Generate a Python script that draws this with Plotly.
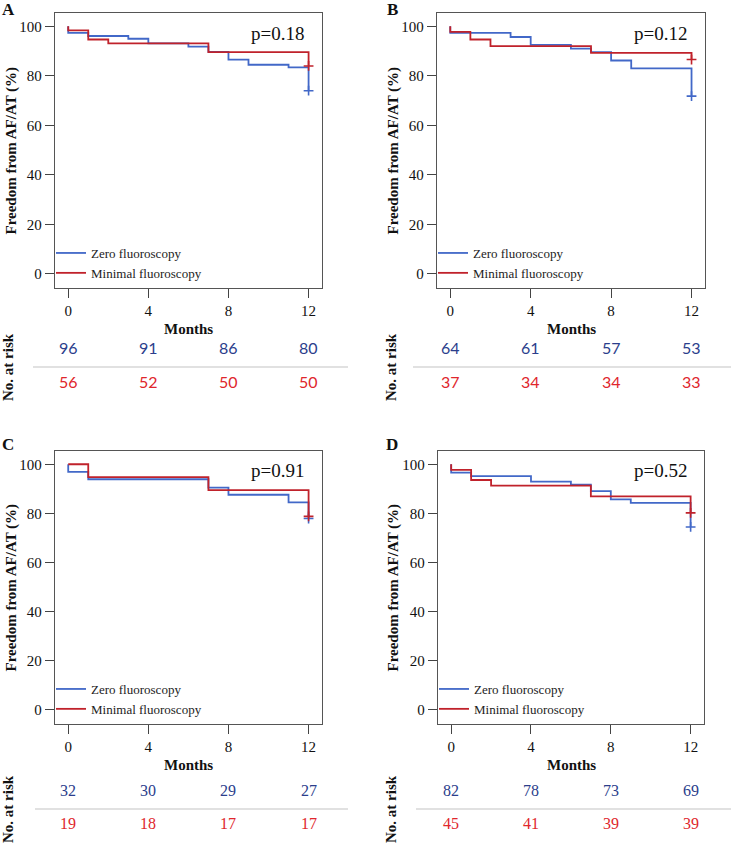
import plotly.graph_objects as go

W, H = 731, 844

# ---------------- data ----------------
panel_letters = ["A", "B", "C", "D"]
p_values = ["p=0.18", "p=0.12", "p=0.91", "p=0.52"]
series_names = ["Zero fluoroscopy", "Minimal fluoroscopy"]
risk_months = [0, 4, 8, 12]

A_zero_t = [0, 0, 1, 3, 4, 6, 7, 8, 9, 11, 12]
A_zero_s = [100, 97.4, 96.1, 95.0, 93.1, 91.8, 89.7, 86.6, 84.5, 83.4, 74.0]
A_min_t = [0, 0, 1, 2, 7, 12]
A_min_s = [100, 98.4, 94.7, 93.1, 89.6, 84.0]

B_zero_t = [0, 0, 3, 4, 6, 7, 8, 9, 12]
B_zero_s = [100, 97.4, 95.7, 92.5, 91.0, 89.6, 86.2, 83.0, 71.8]
B_min_t = [0, 0, 1, 2, 7, 12]
B_min_s = [100, 97.8, 94.7, 92.0, 89.3, 86.6]

C_zero_t = [0, 0, 1, 7, 8, 11, 12]
C_zero_s = [100, 96.9, 93.9, 90.5, 87.6, 84.5, 77.9]
C_min_t = [0, 1, 7, 12]
C_min_s = [100, 94.8, 89.5, 78.8]

D_zero_t = [0, 0, 1, 4, 6, 7, 8, 9, 12]
D_zero_s = [100, 96.6, 95.2, 92.9, 91.7, 89.1, 85.7, 84.3, 74.5]
D_min_t = [0, 0, 1, 2, 7, 12]
D_min_s = [100, 97.7, 93.6, 91.3, 86.9, 80.2]

A_risk_zero = [96, 91, 86, 80]
A_risk_min = [56, 52, 50, 50]
B_risk_zero = [64, 61, 57, 53]
B_risk_min = [37, 34, 34, 33]
C_risk_zero = [32, 30, 29, 27]
C_risk_min = [19, 18, 17, 17]
D_risk_zero = [82, 78, 73, 69]
D_risk_min = [45, 41, 39, 39]

y_ticks = [0, 20, 40, 60, 80, 100]
x_ticks = [0, 4, 8, 12]

# ---------------- styling / layout ----------------
BLUE = "#4268c8"
RED = "#c0222b"
RISK_BLUE = "#2b3e8c"
RISK_RED = "#e0262c"
SERIF = "Liberation Serif, Times New Roman, serif"
SANS = "Lato, Liberation Sans, sans-serif"

def px(x):
    return x / W

def py(y):
    return 1 - y / H

# pixel boxes: (left, right, top, bottom)
boxes = [(55, 322, 13, 288), (437, 705, 13, 288),
         (55, 322, 451, 724), (438, 704, 451, 724)]
risk_rows = [(347, 382, 367), (347, 382, 367), (790, 823, 809), (790, 823, 809)]
sep_x = [(33, 348), (413, 731), (35, 348), (416, 731)]
letter_pos = [(8, 9), (392, 9), (8, 444), (392, 444)]
ytitle_x = [11, 393, 11, 393]
norisk_x = [8, 391, 8, 391]
risk_fonts = [SANS, SANS, SERIF, SERIF]

curves = [
    (A_zero_t, A_zero_s, A_min_t, A_min_s, A_risk_zero, A_risk_min),
    (B_zero_t, B_zero_s, B_min_t, B_min_s, B_risk_zero, B_risk_min),
    (C_zero_t, C_zero_s, C_min_t, C_min_s, C_risk_zero, C_risk_min),
    (D_zero_t, D_zero_s, D_min_t, D_min_s, D_risk_zero, D_risk_min),
]

fig = go.Figure()
annotations = []
shapes = []
layout_extra = {}

def note(**kw):
    kw.setdefault("showarrow", False)
    kw.setdefault("xanchor", "center")
    kw.setdefault("yanchor", "middle")
    annotations.append(kw)

for i, (zt, zs, mt, ms, rz, rm) in enumerate(curves):
    k = "" if i == 0 else str(i + 1)
    xa, ya = "x" + k, "y" + k
    leg = "legend" + k
    left, right, top, bottom = boxes[i]

    for t, s, color, name in [(zt, zs, BLUE, series_names[0]), (mt, ms, RED, series_names[1])]:
        fig.add_trace(go.Scatter(
            x=t, y=s, mode="lines", line=dict(color=color, width=1.8, shape="hv"),
            name=name, xaxis=xa, yaxis=ya, legend=leg, showlegend=True,
            hoverinfo="skip"))
    for t, s, color in [(zt, zs, BLUE), (mt, ms, RED)]:
        fig.add_trace(go.Scatter(
            x=[t[-1]], y=[s[-1]], mode="markers",
            marker=dict(symbol="cross-thin", size=7, line=dict(color=color, width=1.6)),
            xaxis=xa, yaxis=ya, showlegend=False, hoverinfo="skip"))

    layout_extra["xaxis" + k] = dict(
        domain=[px(left), px(right)], range=[-0.66, 12.67], anchor=ya,
        tickvals=x_ticks, ticks="outside", ticklen=9, tickwidth=1.2, tickcolor="#444",
        showline=True, mirror=True, linecolor="#555", linewidth=1.3,
        showgrid=False, zeroline=False,
        tickfont=dict(family=SERIF, size=15, color="#111"), automargin=False)
    layout_extra["yaxis" + k] = dict(
        domain=[py(bottom), py(top)], range=[-5.7, 105.4], anchor=xa,
        tickvals=y_ticks, ticks="outside", ticklen=9, tickwidth=1.2, tickcolor="#444",
        showline=True, mirror=True, linecolor="#555", linewidth=1.3,
        showgrid=False, zeroline=False,
        tickfont=dict(family=SERIF, size=15, color="#111"), automargin=False)
    layout_extra[leg] = dict(
        x=px(left - 4), y=py(bottom - 50), xanchor="left", yanchor="top",
        bgcolor="rgba(0,0,0,0)", borderwidth=0, tracegroupgap=0,
        itemwidth=30, font=dict(family=SERIF, size=13, color="#222"))

    lx, ly = letter_pos[i]
    note(text="<b>%s</b>" % panel_letters[i], x=px(lx), y=py(ly),
         xref="paper", yref="paper", font=dict(family=SERIF, size=17, color="#111"))
    note(text=p_values[i], x=0.835, y=0.927, xref=xa + " domain", yref=ya + " domain",
         font=dict(family=SERIF, size=19, color="#111"))
    note(text="<b>Freedom from AF/AT (%)</b>", x=px(ytitle_x[i]),
         y=py((top + bottom) / 2), xref="paper", yref="paper", textangle=-90,
         font=dict(family=SERIF, size=15, color="#111"))
    note(text="<b>Months</b>", x=px((left + right) / 2), y=py(bottom + 41),
         xref="paper", yref="paper", font=dict(family=SERIF, size=15, color="#111"))

    yb, yr, ysep = risk_rows[i]
    for m, vz, vm in zip(risk_months, rz, rm):
        note(text=str(vz), x=m, y=py(yb), xref=xa, yref="paper",
             font=dict(family=risk_fonts[i], size=16, color=RISK_BLUE))
        note(text=str(vm), x=m, y=py(yr), xref=xa, yref="paper",
             font=dict(family=risk_fonts[i], size=16, color=RISK_RED))
    note(text="<b>No. at risk</b>", x=px(norisk_x[i]), y=py(ysep),
         xref="paper", yref="paper", textangle=-90,
         font=dict(family=SERIF, size=15, color="#111"))
    sx0, sx1 = sep_x[i]
    shapes.append(dict(type="line", xref="paper", yref="paper",
                       x0=px(sx0), x1=px(sx1), y0=py(ysep), y1=py(ysep),
                       line=dict(color="#c4c4c4", width=1.2)))

fig.update_layout(
    width=W, height=H, margin=dict(l=0, r=0, t=0, b=0),
    paper_bgcolor="white", plot_bgcolor="white",
    annotations=annotations, shapes=shapes, **layout_extra)

fig.write_html("out.html", config={"displayModeBar": False},
               post_script="document.body.style.margin='0px';")
